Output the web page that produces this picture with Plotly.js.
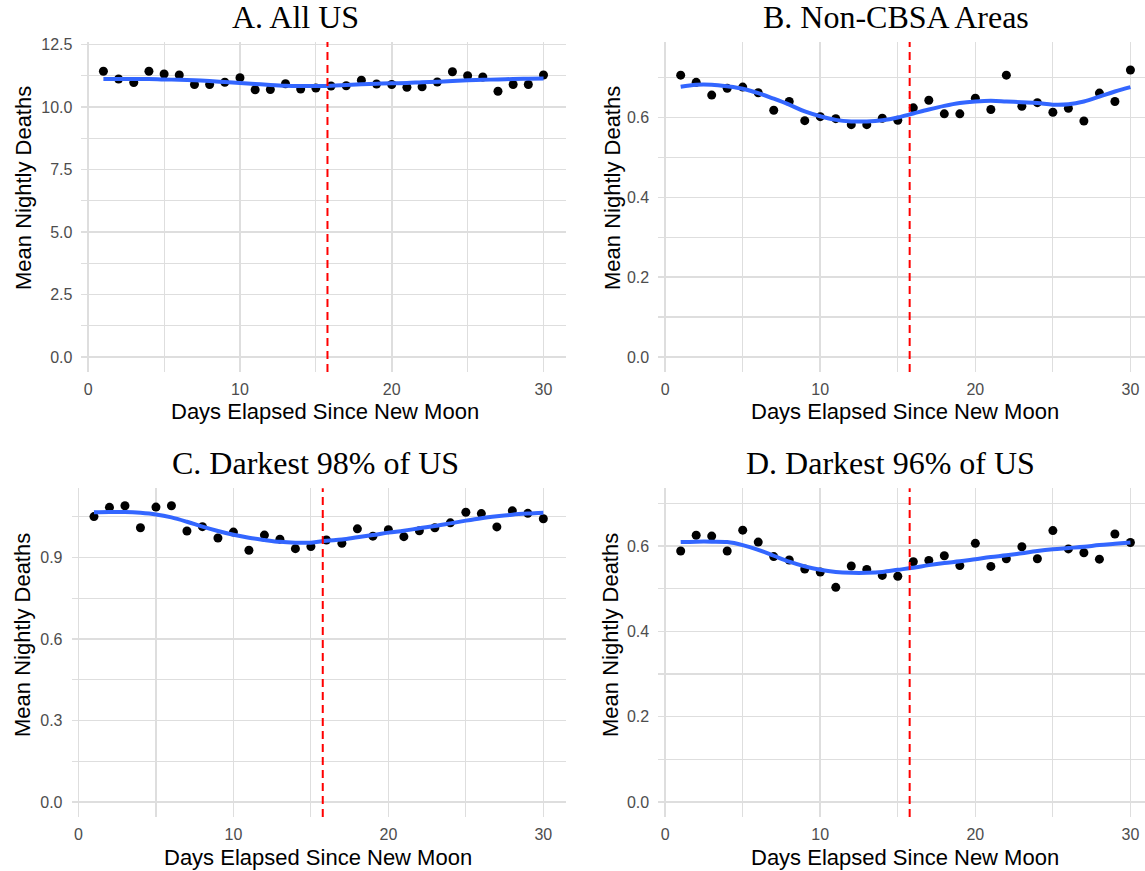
<!DOCTYPE html>
<html>
<head>
<meta charset="utf-8">
<script src="https://cdn.plot.ly/plotly-3.0.1.min.js"></script>
<style>html,body{margin:0;padding:0;background:#fff;}#chart{width:1145px;height:871px;}</style>
</head>
<body>
<div id="chart"></div>
<script>
const days = [1,2,3,4,5,6,7,8,9,10,11,12,13,14,15,16,17,18,19,20,21,22,23,24,25,26,27,28,29,30];

const allUS = [11.43,11.12,10.98,11.43,11.32,11.28,10.90,10.90,10.99,11.17,10.69,10.70,10.93,10.72,10.76,10.84,10.85,11.07,10.92,10.90,10.79,10.81,11.00,11.41,11.25,11.20,10.63,10.90,10.90,11.28];
const allUSSmooth = [11.12,11.12,11.12,11.12,11.10,11.09,11.07,11.04,11.00,10.96,10.92,10.88,10.85,10.84,10.84,10.85,10.88,10.91,10.93,10.95,10.96,10.99,11.01,11.04,11.07,11.09,11.10,11.12,11.13,11.14];

const nonCBSA = [0.706,0.688,0.656,0.673,0.676,0.662,0.618,0.640,0.592,0.602,0.597,0.582,0.582,0.598,0.593,0.624,0.643,0.609,0.609,0.648,0.620,0.706,0.628,0.637,0.613,0.623,0.591,0.661,0.640,0.719];
const nonCBSASmooth = [0.677,0.682,0.682,0.678,0.672,0.661,0.647,0.632,0.615,0.603,0.594,0.590,0.590,0.593,0.600,0.610,0.620,0.629,0.636,0.640,0.642,0.640,0.638,0.636,0.632,0.633,0.640,0.652,0.665,0.676];

const dark98 = [1.050,1.084,1.090,1.009,1.085,1.090,0.997,1.013,0.971,0.993,0.926,0.982,0.967,0.932,0.940,0.964,0.952,1.005,0.978,1.002,0.976,0.998,1.009,1.027,1.066,1.061,1.012,1.071,1.062,1.042];
const dark98Smooth = [1.066,1.067,1.067,1.064,1.058,1.047,1.031,1.013,0.997,0.983,0.972,0.964,0.957,0.954,0.954,0.961,0.966,0.974,0.982,0.991,0.998,1.007,1.015,1.025,1.035,1.044,1.051,1.057,1.061,1.064];

const dark96 = [0.588,0.625,0.623,0.588,0.637,0.609,0.575,0.567,0.546,0.539,0.503,0.553,0.545,0.531,0.529,0.563,0.566,0.577,0.554,0.606,0.552,0.570,0.598,0.570,0.636,0.593,0.584,0.569,0.628,0.608];
const dark96Smooth = [0.609,0.610,0.610,0.609,0.602,0.591,0.577,0.563,0.552,0.544,0.539,0.537,0.537,0.539,0.544,0.549,0.555,0.560,0.564,0.569,0.574,0.578,0.583,0.588,0.592,0.595,0.598,0.602,0.605,0.608];

const fullMoonDay = 15.765;

const panelTitles = ["A. All US","B. Non-CBSA Areas","C. Darkest 98% of US","D. Darkest 96% of US"];
const xTitle = "Days Elapsed Since New Moon";
const yTitle = "Mean Nightly Deaths";
const xTicks = [0,10,20,30];

const W = 1145, H = 871;
const px = v => v / W;
const py = v => 1 - v / H;

const panels = [
  {pts: allUS, sm: allUSSmooth, xd:[81.4,565.5], yd:[372,42], xr:[-0.45,31.45], yr:[-0.6,12.6], dt:2.5, mdt:1.25, title:[295.5,17], xt:[324.5,411], yt:[23,188]},
  {pts: nonCBSA, sm: nonCBSASmooth, xd:[658.2,1145], yd:[372,42], xr:[-0.45,30.94], yr:[-0.0376,0.789], dt:0.2, mdt:0.1, title:[895.5,17], xt:[905,411], yt:[612,188]},
  {pts: dark98, sm: dark98Smooth, xd:[71.5,565.8], yd:[817,488.3], xr:[-0.45,31.45], yr:[-0.055,1.154], dt:0.3, mdt:0.15, title:[315.5,463], xt:[318,857], yt:[22,635]},
  {pts: dark96, sm: dark96Smooth, xd:[658.2,1145], yd:[817,488.3], xr:[-0.45,30.94], yr:[-0.035,0.735], dt:0.2, mdt:0.1, title:[890,463], xt:[905,857], yt:[610,635]}
];

const traces = [];
const layout = {
  width: W, height: H,
  margin: {l:0, r:0, t:0, b:0},
  paper_bgcolor: '#ffffff', plot_bgcolor: '#ffffff',
  showlegend: false,
  font: {family: 'Liberation Sans, Arial, sans-serif', color: '#000'},
  shapes: [], annotations: []
};

const gridCol = '#DEDEDE';
panels.forEach((p, i) => {
  const n = i + 1;
  const xa = 'x' + (n === 1 ? '' : n), ya = 'y' + (n === 1 ? '' : n);
  const xk = 'xaxis' + (n === 1 ? '' : n), yk = 'yaxis' + (n === 1 ? '' : n);
  traces.push({x: days, y: p.pts, xaxis: xa, yaxis: ya, type: 'scatter', mode: 'markers',
    marker: {color: '#000', size: 9}, hoverinfo: 'skip', cliponaxis: false});
  traces.push({x: days, y: p.sm, xaxis: xa, yaxis: ya, type: 'scatter', mode: 'lines',
    line: {color: '#3366FF', width: 4, shape: 'spline', smoothing: 1}, hoverinfo: 'skip'});
  layout[xk] = {domain: [px(p.xd[0]), px(p.xd[1])], range: p.xr, anchor: ya,
    tickmode: 'array', tickvals: xTicks, ticktext: xTicks.map(String),
    showgrid: true, gridcolor: gridCol, gridwidth: 1.6, zeroline: false, showline: false,
    ticks: '', ticklabelstandoff: 6, tickfont: {size: 16, color: '#4D4D4D', family: 'Liberation Sans, Arial, sans-serif'},
    minor: {dtick: 5, tick0: 0, showgrid: true, gridcolor: gridCol, gridwidth: 1.2}};
  layout[yk] = {domain: [py(p.yd[0]), py(p.yd[1])], range: p.yr, anchor: xa,
    tick0: 0, dtick: p.dt, tickformat: '.1f',
    showgrid: true, gridcolor: gridCol, gridwidth: 1.6, zeroline: false, showline: false,
    ticks: '', ticklabelstandoff: 8, tickfont: {size: 16, color: '#4D4D4D', family: 'Liberation Sans, Arial, sans-serif'},
    minor: {dtick: p.mdt, tick0: 0, showgrid: true, gridcolor: gridCol, gridwidth: 1.2}};
  layout.shapes.push({type: 'line', xref: xa, yref: ya + ' domain', x0: fullMoonDay, x1: fullMoonDay, y0: 0, y1: 1,
    line: {color: '#FF0000', width: 2, dash: '8px,5px'}, layer: 'above'});
  layout.annotations.push({xref: 'paper', yref: 'paper', x: px(p.title[0]), y: py(p.title[1]),
    xanchor: 'center', yanchor: 'middle', showarrow: false, text: panelTitles[i],
    font: {family: 'Liberation Serif, Times New Roman, serif', size: 32, color: '#000'}});
  layout.annotations.push({xref: 'paper', yref: 'paper', x: px(p.xt[0]), y: py(p.xt[1]),
    xanchor: 'center', yanchor: 'middle', showarrow: false, text: xTitle,
    font: {family: 'Liberation Sans, Arial, sans-serif', size: 22, color: '#000'}});
  layout.annotations.push({xref: 'paper', yref: 'paper', x: px(p.yt[0]), y: py(p.yt[1]),
    xanchor: 'center', yanchor: 'middle', showarrow: false, text: yTitle, textangle: -90,
    font: {family: 'Liberation Sans, Arial, sans-serif', size: 22, color: '#000'}});
});

Plotly.newPlot('chart', traces, layout, {staticPlot: true, displayModeBar: false});
</script>
</body>
</html>
